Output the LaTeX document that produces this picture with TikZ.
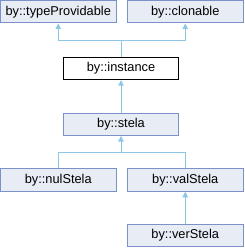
\documentclass[tikz,border=0pt]{standalone}
\usepackage{fontspec}
\setmainfont{Liberation Sans}
\usetikzlibrary{arrows.meta}
\definecolor{boxborder}{RGB}{122,146,199}
\definecolor{boxfill}{RGB}{232,236,245}
\definecolor{edgecol}{RGB}{142,198,230}
\tikzset{
  cls/.style={draw=boxborder, fill=boxfill, line width=1pt, minimum width=115.5pt, minimum height=22.5pt, inner sep=0pt, font=\fontsize{12.8pt}{14pt}\selectfont},
  focus/.style={cls, draw=black, fill=white},
  inherit/.style={draw=edgecol, line width=1pt, -{Triangle[width=5.5pt,length=5.5pt,fill=edgecol]}}
}
\begin{document}
\begin{tikzpicture}[x=1pt,y=-1pt]
\useasboundingbox (0,0) rectangle (244,248);
\node[cls] (tp) at (58.25,11.75) {by::typeProvidable};
\node[cls] (cl) at (185.25,11.75) {by::clonable};
\node[focus] (inst) at (121,68.5) {by::instance};
\node[cls] (stela) at (121,124.25) {by::stela};
\node[cls] (nul) at (58.25,180) {by::nulStela};
\node[cls] (val) at (185.25,180) {by::valStela};
\node[cls] (ver) at (185.25,235.5) {by::verStela};
\coordinate (j1) at (121,41);
\coordinate (j2) at (121,152);
\draw[draw=edgecol, line width=1pt] (inst.north) -- (j1);
\draw[inherit] (j1) -| (tp.south);
\draw[inherit] (j1) -| (cl.south);
\draw[inherit] (stela.north) -- (inst.south);
\draw[draw=edgecol, line width=1pt] (nul.north) |- (j2);
\draw[draw=edgecol, line width=1pt] (val.north) |- (j2);
\draw[inherit] (j2) -- (stela.south);
\draw[inherit] (ver.north) -- (val.south);
\end{tikzpicture}
\end{document}
